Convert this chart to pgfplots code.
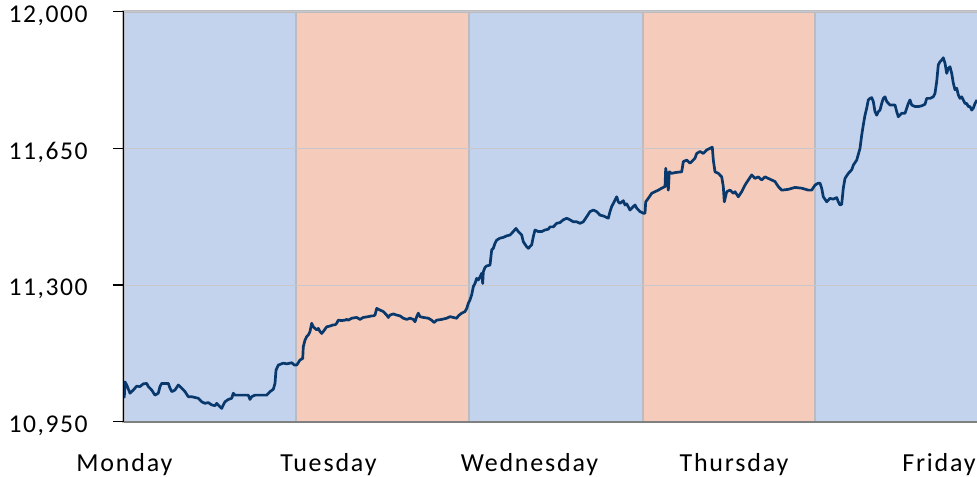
\documentclass[border=0pt]{standalone}
\usepackage{pgfplots}
\pgfplotsset{compat=1.18}
\usepackage{fontspec}
\setmainfont{Carlito}
\newfontfamily\ylabfont[LetterSpace=6]{Carlito}
\newfontfamily\xlabfont[LetterSpace=7]{Carlito}
\definecolor{bandblue}{RGB}{195,211,238}
\definecolor{bandorange}{RGB}{245,203,187}
\definecolor{bandedge}{RGB}{188,188,192}
\definecolor{gridc}{RGB}{200,200,204}
\definecolor{navy}{RGB}{8,56,108}
\definecolor{botaxis}{RGB}{128,128,128}
\pgfplotsset{set layers}
\begin{document}
\begin{tikzpicture}
\begin{axis}[
  name=ax,
  scale only axis,
  width=426.75bp, height=205bp,
  xmin=0, xmax=853.5,
  ymin=10950, ymax=12000,
  scaled y ticks=false,
  scaled x ticks=false,
  axis line style={draw=none},
  ytick={10950,11300,11650,12000},
  yticklabels={{10,950},{11,300},{11,650},{12,000}},
  xtick={1,205,406,610.5,815.5},
  xticklabels={Monday,Tuesday,Wednesday,Thursday,Friday},
  xtick style={draw=none},
  ytick style={black, line width=0.6bp},
  tick align=outside,
  major tick length=5bp,
  ytick pos=left,
  xtick pos=bottom,
  ymajorgrids,
  major grid style={gridc, line width=0.5bp},
  yticklabel style={font=\fontsize{12.8bp}{14bp}\ylabfont, anchor=base east, inner sep=0pt, xshift=-12.75bp, yshift=-5.4bp},
  xticklabel style={font=\fontsize{13bp}{15bp}\xlabfont, anchor=base, inner sep=0pt, yshift=-20bp},
  clip=true,
]
% day bands
\addplot[on layer=axis background, fill=bandblue, draw=bandedge, line width=1.2bp] coordinates {(0,10950) (0,12000) (172.5,12000) (172.5,10950)} -- cycle;
\addplot[on layer=axis background, fill=bandorange, draw=bandedge, line width=1.2bp] coordinates {(172.5,10950) (172.5,12000) (345.2,12000) (345.2,10950)} -- cycle;
\addplot[on layer=axis background, fill=bandblue, draw=bandedge, line width=1.2bp] coordinates {(345.2,10950) (345.2,12000) (519.6,12000) (519.6,10950)} -- cycle;
\addplot[on layer=axis background, fill=bandorange, draw=bandedge, line width=1.2bp] coordinates {(519.6,10950) (519.6,12000) (691.5,12000) (691.5,10950)} -- cycle;
\addplot[on layer=axis background, fill=bandblue, draw=bandedge, line width=1.2bp] coordinates {(691.5,10950) (691.5,12000) (860,12000) (860,10950)} -- cycle;
% index
\addplot[navy, line width=1.35bp, line join=round, mark=none] table {
x y
0 11052
0.8 11013
1.5 11052
3.2 11044
6.5 11023
9.8 11031
13.2 11041
16.5 11040
19.8 11047
23.2 11048
24.8 11040
28.2 11031
31.5 11018
34.8 11023
36.5 11040
38.2 11048
44.8 11048
46.5 11036
48.2 11027
51.5 11031
54.8 11044
58.2 11036
61.5 11027
64.8 11014
68.2 11014
71.5 11012
74.8 11010
78.2 11001
81.5 10997
84.8 10999
88.2 10993
91.5 10991
93.2 10997
96.5 10988
98.2 10984
99.8 10993
101.5 11001
104.8 11007
108.2 11010
109.8 11023
111.5 11018
124.8 11018
126.5 11007
128.2 11014
131.5 11018
143.2 11018
146.5 11027
149.8 11033
151.5 11048
152.5 11082
154.8 11095
159.8 11100
163.2 11098
168.2 11101
171 11095
173.2 11095
176.5 11108
179.2 11112
179.8 11142
181.5 11159
183.2 11168
184.8 11172
186.5 11181
188.2 11202
189.8 11193
191.5 11189
193.2 11185
194.8 11189
196.5 11181
198.2 11176
199.8 11181
203.2 11193
206.5 11195
209.8 11198
211.5 11198
213.2 11202
214.8 11210
218.2 11209
221.5 11210
223.2 11212
224.8 11210
228.2 11215
233.2 11217
236.5 11212
239.8 11217
244.8 11219
248.2 11221
249.8 11221
251.5 11223
253.2 11240
256.5 11236
259.8 11232
263.2 11223
264.8 11217
266.5 11223
269.8 11226
273.2 11223
276.5 11221
279.8 11215
283.2 11212
286.5 11215
289.8 11212
291.5 11206
293.2 11219
294.8 11228
296.5 11219
299.8 11217
304.8 11215
308.2 11210
310.5 11204
313.2 11210
318.2 11212
323.2 11215
326.5 11219
329.8 11217
333.2 11215
334.8 11221
338.2 11228
341.5 11232
343.2 11240
344.8 11253
346.5 11262
348.2 11275
349.8 11296
351.5 11304
353.2 11317
354.8 11313
356.5 11321
358.2 11330
359.2 11304
359.8 11334
361.5 11345
363.2 11349
366.5 11351
368.2 11390
369.8 11394
371.5 11407
373.2 11415
376.5 11420
379.8 11422
383.2 11426
386.5 11428
389.8 11437
392.5 11445
394.8 11437
398.2 11428
399.8 11411
403.2 11398
404.8 11394
408.2 11403
409.8 11424
411.5 11441
414.8 11437
418.2 11437
421.5 11441
424.8 11443
426.5 11449
429.8 11449
433.2 11458
436.5 11460
439.8 11467
443.2 11471
446.5 11467
449.8 11462
453.2 11462
456.5 11458
459.8 11462
463.2 11475
466.5 11488
469.8 11492
473.2 11488
476.5 11479
479.8 11477
483.2 11473
484.8 11471
486.5 11488
488.2 11501
489.8 11509
493.2 11526
494.8 11513
496.5 11509
499.8 11516
501.5 11505
503.2 11508
506.5 11492
509.8 11501
511.5 11505
513.2 11497
516.5 11488
519.8 11484
521.5 11484
522.2 11513
524.8 11522
528.2 11535
531.5 11539
534.8 11543
538.2 11548
541.5 11552
542.2 11599
543.2 11582
544.8 11543
545.8 11590
548.2 11586
551.5 11588
558.2 11590
559.8 11616
563.2 11620
566.5 11612
568.2 11616
571.5 11625
573.2 11637
576.5 11642
579.8 11637
583.2 11646
586.5 11650
588.8 11653
589.8 11620
591.5 11590
594.8 11586
598.2 11577
599.8 11552
600.8 11513
603.2 11539
606.5 11543
609.8 11535
611.5 11539
614.8 11526
618.2 11539
621.5 11556
624.8 11569
628.2 11582
631.5 11573
634.8 11577
638.2 11569
641.5 11577
644.8 11573
648.2 11569
651.5 11565
654.8 11552
658.2 11543
664.8 11545
671.5 11550
678.2 11548
684.8 11543
688.2 11543
691.5 11556
694.8 11561
696.5 11561
698.2 11548
699.8 11526
703.2 11513
706.5 11522
709.8 11520
713.2 11524
714.8 11513
716.5 11505
718.2 11507
719.8 11548
721.5 11573
724.8 11586
728.2 11595
729.8 11607
733.2 11620
736.5 11650
738.2 11684
739.8 11710
741.5 11735
743.2 11753
744.8 11774
746.5 11778
748.2 11780
749.8 11770
751.5 11744
753.2 11735
754.8 11744
756.5 11748
758.2 11765
759.8 11778
761.5 11782
763.2 11770
766.5 11761
769.8 11761
771.5 11761
773.2 11744
774.8 11731
778.2 11740
781.5 11740
784.8 11765
786.5 11774
788.2 11761
791.5 11757
794.8 11757
798.2 11759
801.5 11763
803.2 11778
806.5 11778
809.8 11782
811.5 11791
813.2 11821
814.8 11864
816.5 11872
818.2 11876
819.8 11882
821.5 11868
823.2 11842
824.8 11855
826.5 11859
828.2 11842
829.8 11817
831.5 11800
833.2 11804
834.8 11787
836.5 11778
838.2 11782
839.8 11774
841.5 11765
843.2 11765
844.8 11757
846.5 11757
848.2 11748
849.8 11753
851.5 11765
853.5 11774
};
\end{axis}
\draw[botaxis, line width=1bp] (ax.south west) -- (ax.south east);
\draw[black, line width=0.8bp] (ax.south west) -- (ax.north west);
\pgfresetboundingbox
\path ([xshift=-61.75bp,yshift=-27.65bp]ax.south west) rectangle ([yshift=5.85bp]ax.north east);
\end{tikzpicture}
\end{document}
